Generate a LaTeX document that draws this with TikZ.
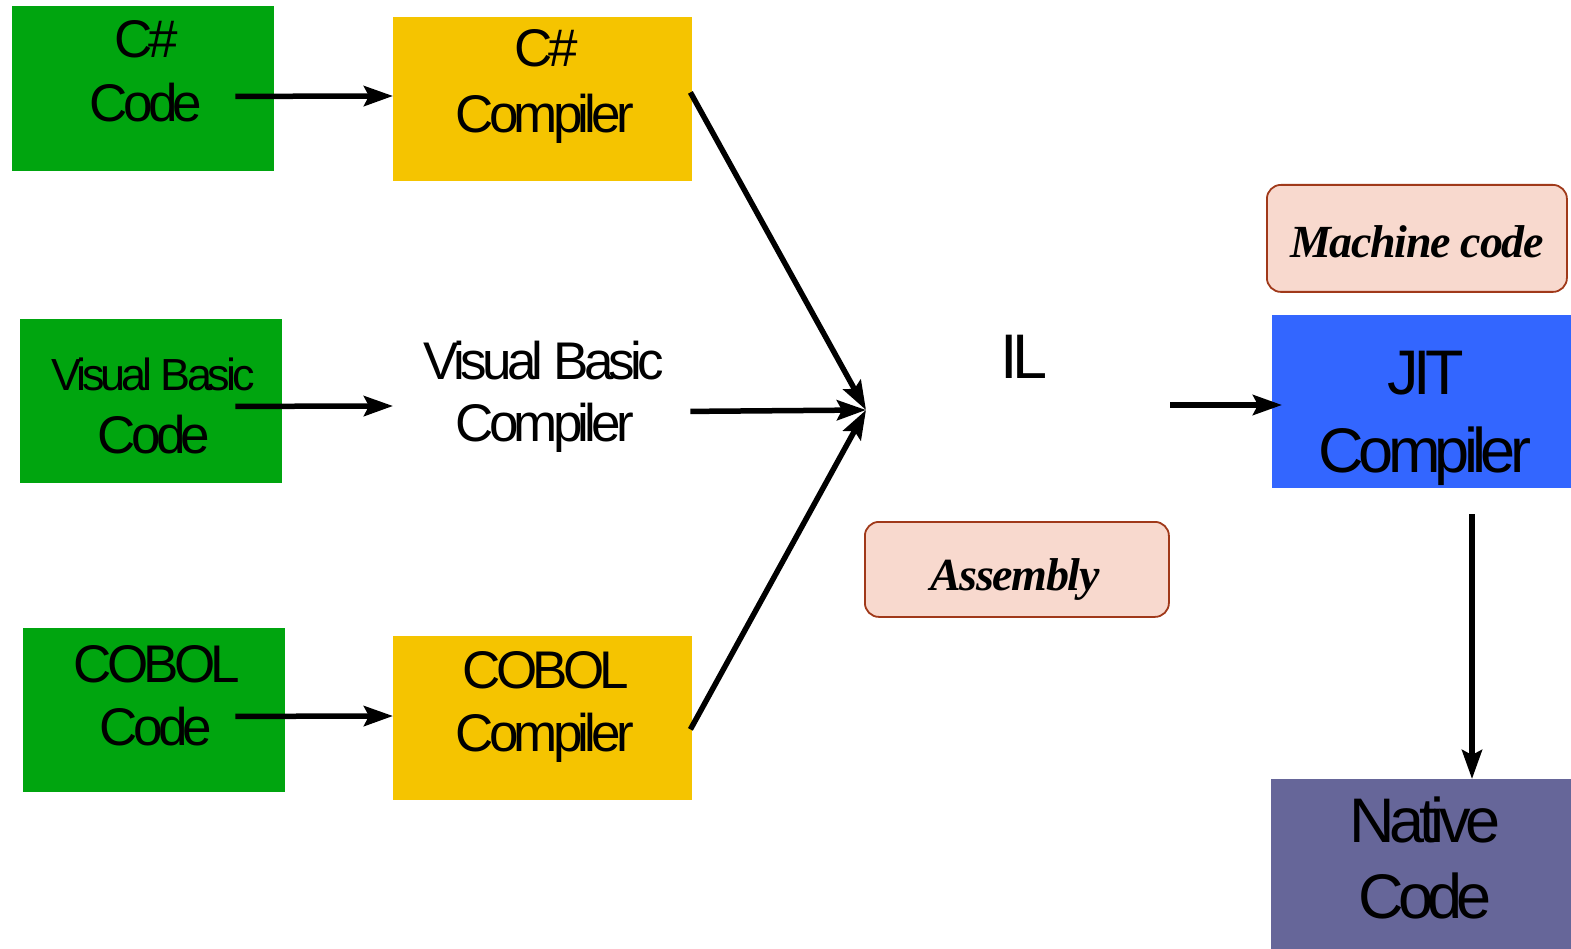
\documentclass[tikz,border=0pt]{standalone}
\usepackage{fontspec}
\usetikzlibrary{arrows.meta,calc}
\newfontfamily\tightsans[LetterSpace=-9]{Liberation Sans}
\newfontfamily\tightserif[LetterSpace=-3]{Liberation Serif}
\definecolor{codegreen}{RGB}{0,165,15}
\definecolor{compyellow}{RGB}{245,196,0}
\definecolor{jitblue}{RGB}{51,102,255}
\definecolor{nativeblue}{RGB}{102,102,153}
\definecolor{tagfill}{RGB}{248,217,206}
\definecolor{tagline}{RGB}{160,57,26}
\begin{document}
\begin{tikzpicture}[x=1pt,y=-1pt,
  box/.style={rectangle,draw=none,inner sep=0pt,anchor=north west},
  greenbox/.style={box,fill=codegreen},
  yellowbox/.style={box,fill=compyellow},
  tag/.style={rectangle,rounded corners=14pt,draw=tagline,line width=1.8pt,fill=tagfill,inner sep=0pt,anchor=north west},
  lbl/.style={inner sep=0pt,anchor=base,font=\tightsans\fontsize{53}{60}\selectfont},
  smalllbl/.style={lbl,font=\tightsans\fontsize{45}{52}\selectfont},
  biglbl/.style={lbl,font=\tightsans\fontsize{63}{70}\selectfont},
  taglbl/.style={inner sep=0pt,anchor=base,font=\tightserif\bfseries\itshape\fontsize{46}{52}\selectfont},
  flow/.style={line width=5.5pt,-{Stealth[length=29pt,width=20pt,inset=5pt]}}]
\useasboundingbox (0,0) rectangle (1571,949);

% source boxes
\node[greenbox,minimum width=262pt,minimum height=165pt] (cscode) at (12,6) {};
\node[greenbox,minimum width=262pt,minimum height=164pt] (vbcode) at (20,319) {};
\node[greenbox,minimum width=262pt,minimum height=164pt] (cobcode) at (23,628) {};

% compiler boxes
\node[yellowbox,minimum width=299pt,minimum height=164pt] (cscomp) at (393,17) {};
\node[box,minimum width=299pt,minimum height=164pt] (vbcomp) at (393,327) {};
\node[yellowbox,minimum width=299pt,minimum height=164pt] (cobcomp) at (393,636) {};

% runtime side
\node[box,fill=jitblue,minimum width=299pt,minimum height=173pt] (jit) at (1272,315) {};
\node[box,fill=nativeblue,minimum width=300pt,minimum height=170pt] (native) at (1271,779) {};
\node[tag,minimum width=300pt,minimum height=107pt] (mach) at (1266,184) {};
\node[tag,minimum width=304pt,minimum height=95pt] (asm) at (864,521) {};

% labels
\node[lbl] (cscode1) at (146,58) {C\#};
\node[lbl] (cscode2) at (146,122) {Code};
\node[smalllbl] (vbcode1) at (153,390) {Visual Basic};
\node[lbl] (vbcode2) at (154,453) {Code};
\node[lbl] (cobcode1) at (157,682) {COBOL};
\node[lbl] (cobcode2) at (156,745) {Code};

\node[lbl] (cscomp1) at (546,67) {C\#};
\node[lbl] (cscomp2) at (545,133) {Compiler};
\node[lbl] (vbcomp1) at (544,380) {Visual Basic};
\node[lbl] (vbcomp2) at (545,441) {Compiler};
\node[lbl] (cobcomp1) at (546,688) {COBOL};
\node[lbl] (cobcomp2) at (545,751) {Compiler};

\node[biglbl] (il) at (1024,378) {IL};
\node[biglbl] (jit1) at (1426,395) {JIT};
\node[biglbl] (jit2) at (1425,472) {Compiler};
\node[biglbl] (native1) at (1425,842) {Native};
\node[biglbl] (native2) at (1425,918) {Code};

\node[taglbl] (machlbl) at (1417,258) {Machine code};
\node[taglbl] (asmlbl) at (1015,590) {Assembly};

% join point in front of IL
\coordinate (ilin) at (866,410);

% connectors
\draw[flow] ([shift={(-39,-75)}]cscode.south east) -- ([shift={(0,79)}]cscomp.north west);
\draw[flow] ([shift={(-47,-77)}]vbcode.south east) -- ([shift={(0,79)}]vbcomp.north west);
\draw[flow] ([shift={(-50,-76)}]cobcode.south east) -- ([shift={(0,80)}]cobcomp.north west);

\draw[flow] ([shift={(-2,-89)}]cscomp.south east) -- (ilin);
\draw[flow] ([shift={(-2,-80)}]vbcomp.south east) -- (ilin);
\draw[flow] ([shift={(-2,-71)}]cobcomp.south east) -- (ilin);

\draw[flow] ([shift={(146,27)}]il.base) -- ([shift={(10,90)}]jit.north west);
\draw[flow] ([shift={(200,26)}]jit.south west) -- ([shift={(201,0)}]native.north west);
\end{tikzpicture}
\end{document}
